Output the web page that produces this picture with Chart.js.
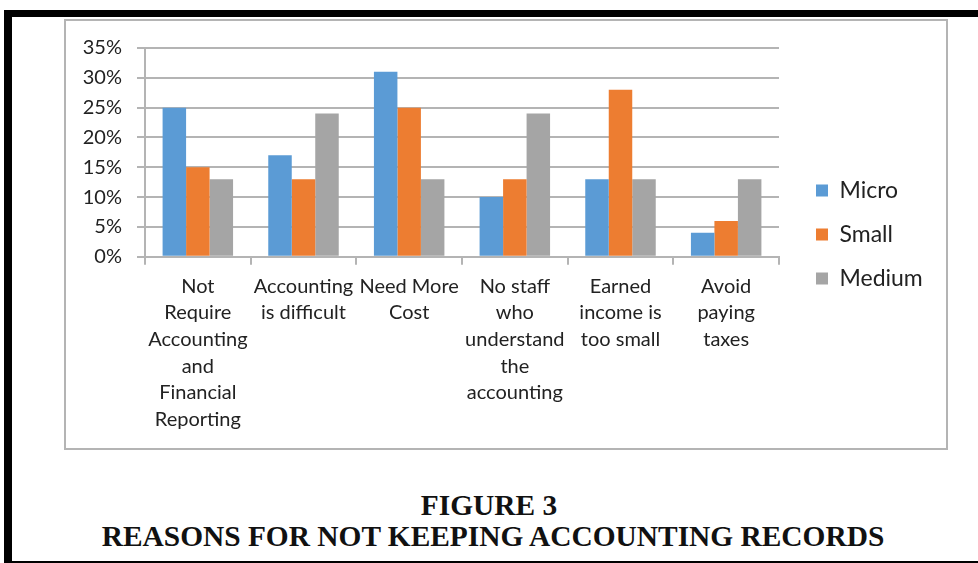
<!DOCTYPE html>
<html>
<head>
<meta charset="utf-8">
<script src="https://cdn.jsdelivr.net/npm/chart.js@4.4.1/dist/chart.umd.min.js"></script>
<style>
  body { margin: 0; background: #fff; width: 978px; height: 563px; overflow: hidden; position: relative; }
  #frame { position: absolute; left: 4px; top: 10px; width: 966px; height: 544px;
           border-top: 7px solid #000; border-left: 8px solid #000; border-bottom: 2px solid #000; }
  #box { position: absolute; left: 64px; top: 19px; width: 880px; height: 427px; border: 2px solid #b4b4b4; }
  .cap { position: absolute; left: 0; width: 978px; text-align: center; font-family: "Liberation Serif", serif;
         font-weight: bold; font-size: 29.4px; line-height: 29px; color: #111; }
</style>
</head>
<body>
<div id="frame"></div>
<div id="box"><canvas id="bar-chart" width="880" height="427"></canvas></div>
<div class="cap" style="top:491px">FIGURE 3</div>
<div class="cap" style="top:522px;left:4px">REASONS FOR NOT KEEPING ACCOUNTING RECORDS</div>

<script>
// categories (one entry per line of the axis label)
const categories = [
    ['Not', 'Require', 'Accounting', 'and', 'Financial', 'Reporting'],
    ['Accounting', 'is difficult'],
    ['Need More', 'Cost'],
    ['No staff', 'who', 'understand', 'the', 'accounting'],
    ['Earned', 'income is', 'too small'],
    ['Avoid', 'paying', 'taxes']
];
const seriesNames = ['Micro', 'Small', 'Medium'];
const microValues = [25, 17, 31, 10, 13, 4];
const smallValues = [15, 13, 25, 13, 28, 6];
const mediumValues = [13, 24, 13, 24, 13, 13];
const yTicks = [0, 5, 10, 15, 20, 25, 30, 35];

const colors = ['#5b9bd5', '#ed7d31', '#a5a5a5'];
const textColor = '#222';
const gridColor = '#b4b4b4';
const fontFamily = 'Lato';
const fontSize = 20;
const legendFontSize = 23;

// legend width (chart.js adds 10px to vertical legends) so the plot ends at x=713
const m = document.createElement('canvas').getContext('2d');
m.font = legendFontSize + 'px ' + fontFamily;
const widest = Math.max(...seriesNames.map(s => m.measureText(s).width));
const legendPad = 21;
const legendWidth = legendPad + 12 + legendFontSize / 2 + widest + 10;
const legendLeft = 750 - legendPad;
const padRight = Math.max(0, 880 - legendLeft - legendWidth);

const ctx = document.getElementById('bar-chart').getContext('2d');
new Chart(ctx, {
    type: 'bar',
    data: {
        labels: categories,
        datasets: [microValues, smallValues, mediumValues].map((vals, i) => ({
            label: seriesNames[i],
            data: vals,
            backgroundColor: colors[i],
            categoryPercentage: 0.667,
            barPercentage: 1
        }))
    },
    options: {
        responsive: false,
        animation: false,
        layout: { padding: { left: 0, top: 0, bottom: 0, right: padRight } },
        plugins: {
            tooltip: { enabled: false },
            legend: {
                position: 'right',
                labels: {
                    boxWidth: 12,
                    boxHeight: 12,
                    padding: legendPad,
                    color: textColor,
                    font: { family: fontFamily, size: legendFontSize }
                }
            }
        },
        scales: {
            x: {
                grid: { drawOnChartArea: false, drawTicks: true, tickLength: 8, color: gridColor, lineWidth: 2 },
                border: { color: gridColor, width: 2 },
                ticks: {
                    autoSkip: false, maxRotation: 0, padding: 8, color: textColor,
                    font: { family: fontFamily, size: fontSize, lineHeight: 1.335 }
                },
                afterFit: s => { s.height = 191.3; }
            },
            xTop: {
                type: 'category', axis: 'x', position: 'top',
                grid: { display: false }, border: { display: false }, ticks: { display: false },
                afterFit: s => { s.height = 22.2; }
            },
            y: {
                min: 0, max: 35,
                afterBuildTicks: s => { s.ticks = yTicks.map(v => ({ value: v })); },
                grid: { color: gridColor, lineWidth: 2, tickLength: 8 },
                border: { color: gridColor, width: 2 },
                ticks: {
                    padding: 15, color: textColor,
                    font: { family: fontFamily, size: fontSize },
                    callback: v => v + '%'
                },
                afterFit: s => { s.width = 79; }
            },
            yPad: {
                type: 'linear', axis: 'y', position: 'right',
                grid: { display: false }, border: { display: false }, ticks: { display: false },
                afterFit: s => { s.width = legendLeft - 713; }
            }
        }
    }
});
</script>
</body>
</html>
